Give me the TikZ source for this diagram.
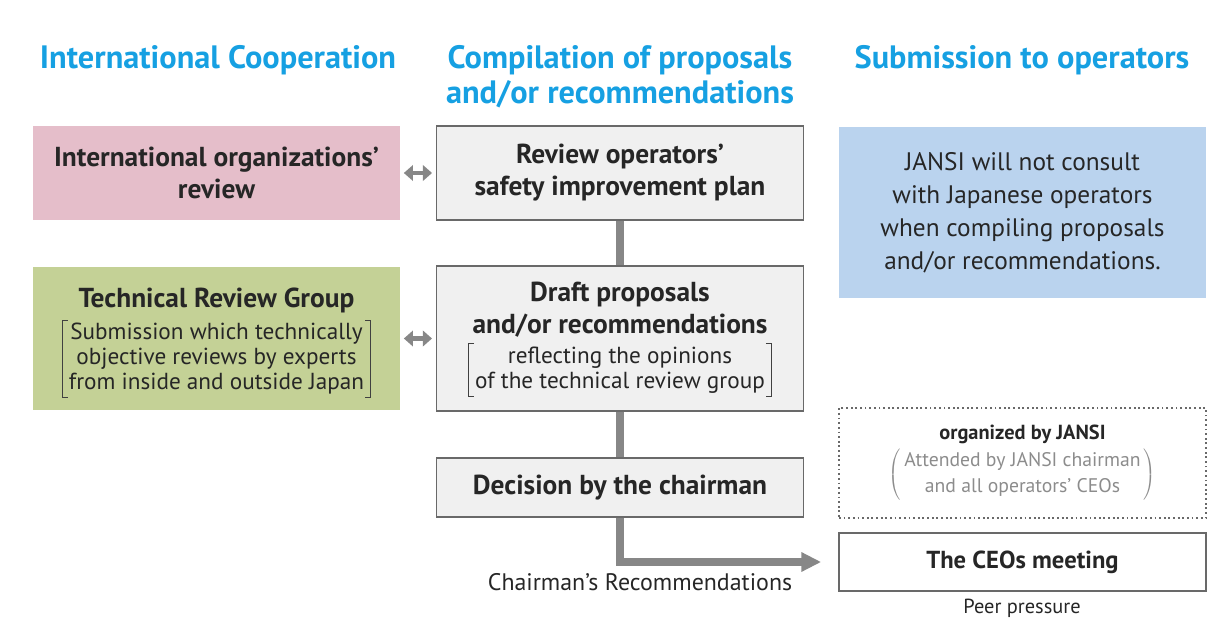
\documentclass[tikz,border=0pt]{standalone}
\usepackage{fontspec}
\setmainfont{PT Sans}
\usetikzlibrary{positioning,arrows.meta}

\definecolor{headblue}{RGB}{22,160,226}
\definecolor{boxfill}{RGB}{240,240,240}
\definecolor{boxline}{RGB}{105,105,105}
\definecolor{pinkfill}{RGB}{229,190,202}
\definecolor{greenfill}{RGB}{196,209,150}
\definecolor{bluefill}{RGB}{186,211,238}
\definecolor{linkgrey}{RGB}{135,135,135}
\definecolor{softtext}{RGB}{140,140,140}

% round brackets around the attendance note
\newcommand{\rdbr}[1]{$\left(\mkern3mu\begin{tabular}{@{}c@{}}#1\end{tabular}\mkern3mu\right)$}

\begin{document}
\begin{tikzpicture}[x=0.025cm,y=-0.025cm,
    head/.style={text=headblue,align=center,font=\fontsize{23}{25}\selectfont\bfseries},
    title/.style={align=center,inner sep=0pt,text=black!85,font=\fontsize{19.5}{22.8}\selectfont\bfseries},
    box/.style={title,minimum width=9.175cm},
    greybox/.style={box,draw=boxline,fill=boxfill,line width=1.3pt},
    note/.style={align=center,inner xsep=4.5pt,inner ysep=2pt,text=black!85,font=\fontsize{16.5}{17.8}\selectfont},
    brk/.style={draw=black!75,line width=0.8pt},
    link/.style={draw=linkgrey,line width=5pt},
    dbl/.style={draw=linkgrey,line width=3.5pt,{Triangle[length=6.5pt,width=11pt]}-{Triangle[length=6.5pt,width=11pt]},
      shorten <=2.5pt,shorten >=2.5pt}]
  \useasboundingbox (0,0) rectangle (1213,638);

  % column heads
  \node[head] (hcoop) at (218,60) {International Cooperation};
  \node[head] (hcomp) at (620,77) {Compilation of proposals\\and/or recommendations};
  \node[head] (hsub) at (1022,60) {Submission to operators};

  % left column
  \node[box,fill=pinkfill,minimum height=2.325cm] (intl) at (216.5,173)
    {International organizations'\\review};
  \node[box,fill=greenfill,minimum height=3.575cm] (trg) at (216.5,338.5) {};
  \node[title] (trgtitle) at (216.5,300) {Technical Review Group};
  \node[note] (trgnote) at (216.5,359)
    {Submission which technically\\objective reviews by experts\\from inside and outside Japan};
  \draw[brk] ([xshift=4pt]trgnote.north west) -| (trgnote.south west) -- ++(4pt,0);
  \draw[brk] ([xshift=-4pt]trgnote.north east) -| (trgnote.south east) -- ++(-4pt,0);

  % middle column
  \node[greybox,minimum height=2.35cm] (review) at (620,173)
    {Review operators'\\safety improvement plan};
  \node[greybox,minimum height=3.625cm] (draft) at (620,338.5) {};
  \node[title] (drafttitle) at (620,310) {Draft proposals\\and/or recommendations};
  \node[note] (draftnote) at (620,370)
    {reflecting the opinions\\of the technical review group};
  \draw[brk] ([xshift=4pt]draftnote.north west) -| (draftnote.south west) -- ++(4pt,0);
  \draw[brk] ([xshift=-4pt]draftnote.north east) -| (draftnote.south east) -- ++(-4pt,0);
  \node[greybox,minimum height=1.475cm] (decision) at (620,487.5)
    {Decision by the chairman};

  % right column
  \node[box,fill=bluefill,minimum height=4.275cm,font=\fontsize{18}{23.5}\selectfont\mdseries] (jansi) at (1022.5,212.5)
    {JANSI will not consult\\with Japanese operators\\when compiling proposals\\and/or recommendations.};
  \node[box,draw=boxline,dotted,line width=1.3pt,minimum height=2.75cm] (organized) at (1022.5,463)
    {{\fontsize{14.5}{18}\selectfont organized by JANSI}\\[2pt]
     {\color{softtext}\fontsize{14}{18.5}\selectfont\mdseries\rdbr{Attended by JANSI chairman\\and all operators' CEOs}}};
  \node[box,draw=boxline,line width=1.3pt,minimum height=1.45cm,font=\fontsize{17.5}{20}\selectfont\bfseries] (ceos) at (1022.5,562)
    {The CEOs meeting};

  % captions
  \node[font=\fontsize{17}{20}\selectfont,text=black!85] (recs) at (640,582) {Chairman's Recommendations};
  \node[font=\fontsize{14.5}{16}\selectfont,text=black!85] (peer) at (1022,608) {Peer pressure};

  % connectors
  \draw[dbl] (intl) -- (review);
  \draw[dbl] (trg) -- (draft);
  \draw[link] (review) -- (draft);
  \draw[link] (draft) -- (decision);
  \draw[link,-{Triangle[length=14pt,width=13pt]},shorten >=12pt] (decision) |- (ceos.west);
\end{tikzpicture}
\end{document}
